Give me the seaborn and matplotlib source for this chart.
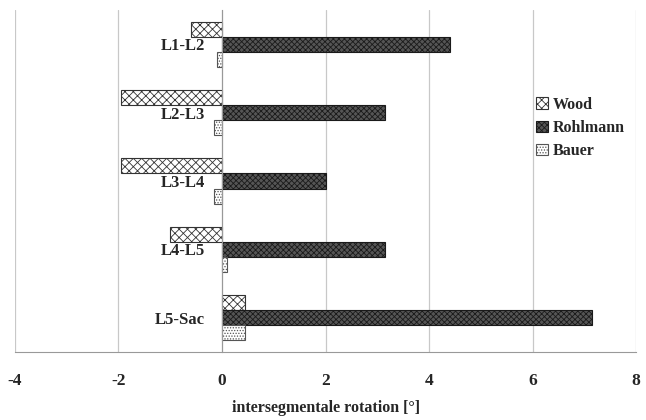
import pandas as pd
import seaborn as sns
import matplotlib.pyplot as plt

segments = ["L1-L2", "L2-L3", "L3-L4", "L4-L5", "L5-Sac"]
studies = ["Wood", "Rohlmann", "Bauer"]
wood = [-0.6, -1.95, -1.95, -1.0, 0.45]
rohlmann = [4.4, 3.15, 2.0, 3.15, 7.15]
bauer = [-0.1, -0.15, -0.15, 0.1, 0.45]

df = pd.DataFrame({
    "segment": segments * 3,
    "study": ["Wood"] * 5 + ["Rohlmann"] * 5 + ["Bauer"] * 5,
    "rotation": wood + rohlmann + bauer,
})

sns.set_style("white")
plt.rcParams['font.family'] = ['Liberation Serif', 'DejaVu Serif']
plt.rcParams['font.weight'] = 'bold'
plt.rcParams['hatch.linewidth'] = 0.6
plt.rcParams['axes.unicode_minus'] = False

fig = plt.figure(figsize=(6.46, 4.20), dpi=100)
ax = fig.add_axes([0.023, 0.162, 0.962, 0.814])

sns.barplot(data=df, x="rotation", y="segment", hue="study", order=segments,
            hue_order=studies, orient="h", width=0.66, ax=ax, legend=False)

# styles per study: facecolor, hatch, edgecolor
styles = {
    "Wood": ("white", "xxxx", "#333333"),
    "Rohlmann": ("#555555", "xxxxxx", "#1a1a1a"),
    "Bauer": ("white", "......", "#555555"),
}
for cont, name in zip(ax.containers, studies):
    fc, hatch, ec = styles[name]
    for p in cont.patches:
        p.set_facecolor(fc)
        p.set_hatch(hatch)
        p.set_edgecolor(ec)
        p.set_linewidth(0.8)

ax.set_xlim(-4, 8)
ax.set_ylim(4.5, -0.5)
ax.set_xticks(range(-4, 9, 2))
ax.xaxis.grid(True, color="#c8c8c8", lw=0.9)
ax.set_axisbelow(True)

for s in ["top", "right"]:
    ax.spines[s].set_visible(False)
ax.spines["left"].set_position(("data", 0))
ax.spines["left"].set_color("#999999")
ax.spines["bottom"].set_color("#999999")

ax.set_yticks(range(5))
ax.set_yticklabels(segments, fontsize=12, fontweight="bold")
ax.set_yticks([i - 0.5 for i in range(6)], minor=True)
ax.tick_params(axis="y", which="major", length=0, pad=12)
ax.tick_params(axis="y", which="minor", length=5, color="#999999", direction="out")
ax.tick_params(axis="x", length=5, color="#999999", direction="out", labelsize=12.5, pad=10)
for t in ax.get_xticklabels():
    t.set_fontweight("bold")

ax.set_ylabel("")
ax.set_xlabel("intersegmentale rotation [°]", fontsize=11.5, fontweight="bold", labelpad=8)

ax.legend(ax.containers, studies, loc="center left", bbox_to_anchor=(0.815, 0.655),
          frameon=False, handlelength=0.75, handleheight=0.75, handletextpad=0.3,
          labelspacing=0.45, prop={"weight": "bold", "size": 11.5})

fig.savefig("out.png", dpi=100)
